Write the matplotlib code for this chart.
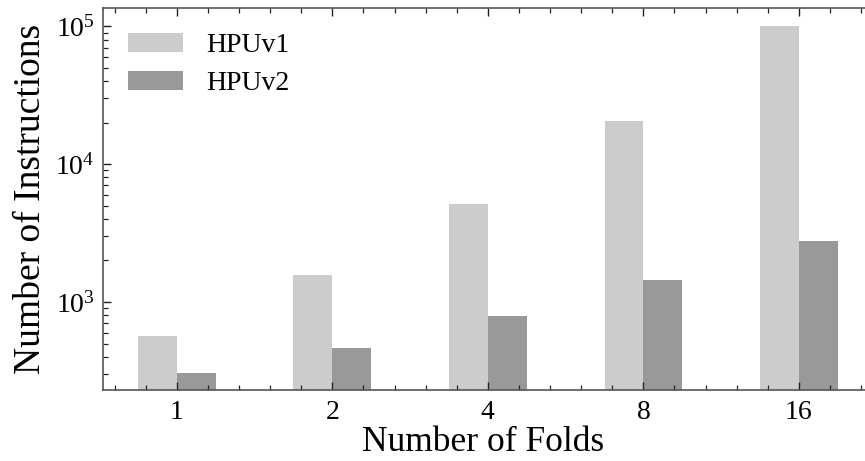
import numpy as np
import matplotlib
matplotlib.use('Agg')
from matplotlib import pyplot as plt
from matplotlib.ticker import MultipleLocator, LogLocator, NullFormatter

plt.rcParams['font.family'] = ['Liberation Serif', 'DejaVu Serif']
plt.rcParams['mathtext.fontset'] = 'custom'
plt.rcParams['mathtext.rm'] = 'Liberation Serif'
plt.rcParams['mathtext.it'] = 'Liberation Serif:italic'

# data
folds = ['1', '2', '4', '8', '16']
hpuv1 = [570, 1560, 5100, 20600, 100000]
hpuv2 = [308, 467, 793, 1440, 2750]

fig = plt.figure(figsize=(8.65, 4.61), dpi=100)
ax = fig.add_axes([0.119, 0.154, 0.89, 0.829])

x = np.arange(len(folds))
w = 0.25
ax.bar(x - w/2, hpuv1, w, color='#cccccc', label='HPUv1')
ax.bar(x + w/2, hpuv2, w, color='#999999', label='HPUv2')

ax.set_yscale('log')
ax.set_ylim(230, 136000)
ax.set_xlim(-0.475, 4.475)
ax.set_xticks(x)
ax.set_xticklabels(folds)
ax.xaxis.set_minor_locator(MultipleLocator(0.2))
ax.yaxis.set_major_locator(LogLocator(base=10))
ax.yaxis.set_minor_locator(LogLocator(base=10, subs=np.arange(2, 10)))
ax.yaxis.set_minor_formatter(NullFormatter())

ax.tick_params(which='both', direction='in', top=True, right=False, labelsize=20, color='#222222')
ax.tick_params(which='major', length=6, width=1)
ax.tick_params(which='minor', length=3.5, width=0.9)
ax.tick_params(axis='x', pad=7)
ax.tick_params(axis='y', pad=6)
for s in ax.spines.values():
    s.set_color('#555555')
    s.set_linewidth(1.2)

ax.set_xlabel('Number of Folds', fontsize=25.5)
ax.set_ylabel('Number of Instructions', fontsize=27, labelpad=5)
ax.xaxis.set_label_coords(0.494, -0.093)

ax.legend(loc='upper left', frameon=False, fontsize=20, handlelength=2.0, handleheight=0.7,
          labelspacing=0.45, handletextpad=0.8)

fig.savefig('out.png', dpi=100)
